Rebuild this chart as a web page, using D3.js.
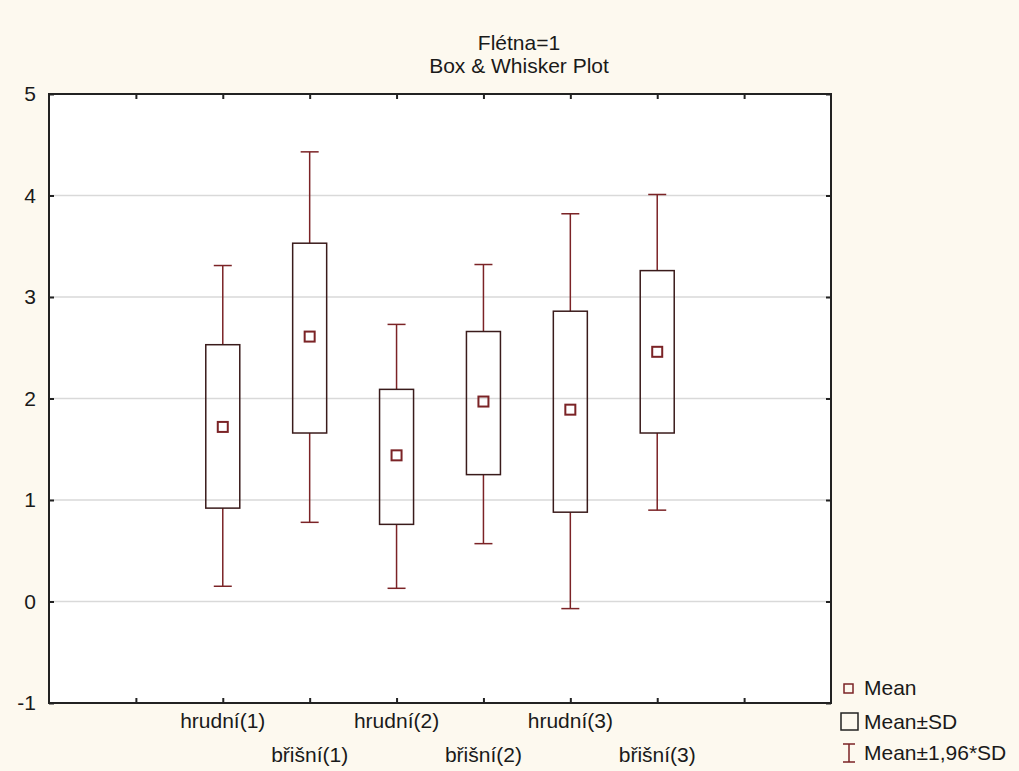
<!DOCTYPE html>
<html>
<head>
<meta charset="utf-8">
<script src="https://cdn.jsdelivr.net/npm/d3@7"></script>
<style>
  body { margin: 0; background: #fdf9ef; }
  text { font-family: Arial, "Liberation Sans", sans-serif; fill: #1a1a1a; }
</style>
</head>
<body>
<svg id="chart" width="1019" height="771"></svg>
<script>
'use strict';

// category slots along x (first and last slots are empty)
const categories = ['', 'hrudní(1)', 'břišní(1)', 'hrudní(2)', 'břišní(2)', 'hrudní(3)', 'břišní(3)', ''];
const groups = ['hrudní(1)', 'břišní(1)', 'hrudní(2)', 'břišní(2)', 'hrudní(3)', 'břišní(3)'];
const means   = [1.72, 2.61, 1.44, 1.97, 1.89, 2.46];
const sdLow   = [0.92, 1.66, 0.76, 1.25, 0.88, 1.66];
const sdHigh  = [2.53, 3.53, 2.09, 2.66, 2.86, 3.26];
const ciLow   = [0.15, 0.78, 0.13, 0.57, -0.07, 0.90];
const ciHigh  = [3.31, 4.43, 2.73, 3.32, 3.82, 4.01];
const yTicks  = [-1, 0, 1, 2, 3, 4, 5];
const legendItems = ['Mean', 'Mean±SD', 'Mean±1,96*SD'];

const margin = { top: 94, right: 188, bottom: 68, left: 49 };
const width = 1019 - margin.left - margin.right,
  height = 771 - margin.top - margin.bottom;
const boxColor = '#7b2326';

const svg = d3.select('#chart');

svg.append('text')
  .attr('x', 519).attr('y', 50)
  .attr('text-anchor', 'middle')
  .style('font-size', '21px')
  .text('Flétna=1');
svg.append('text')
  .attr('x', 519).attr('y', 73)
  .attr('text-anchor', 'middle')
  .style('font-size', '21px')
  .text('Box & Whisker Plot');

const g = svg.append('g')
  .attr('transform', 'translate(' + margin.left + ',' + margin.top + ')');

const x = d3.scaleLinear().domain([-1, 8]).range([0, width]);
const y = d3.scaleLinear().domain([-1, 5]).range([height, 0]);

g.append('rect')
  .attr('width', width).attr('height', height)
  .attr('fill', '#ffffff');

// grid
g.selectAll('.grid')
  .data(yTicks.filter(d => d > -1 && d < 5))
  .enter().append('line')
  .attr('class', 'grid')
  .attr('x1', 0).attr('x2', width)
  .attr('y1', d => y(d)).attr('y2', d => y(d))
  .attr('stroke', '#d9d9d9').attr('stroke-width', 1.5);

const xIdx = d3.range(categories.length);

// axes, ticks inward
const axisL = d3.axisLeft(y).tickValues(yTicks).tickSize(-5).tickPadding(13).tickFormat(d => String(d));
const axisR = d3.axisRight(y).tickValues(yTicks).tickSize(-5).tickFormat('');
const axisB = d3.axisBottom(x).tickValues(xIdx).tickSize(-5).tickFormat('');
const axisT = d3.axisTop(x).tickValues(xIdx).tickSize(-5).tickFormat('');

function styleAxis(sel) {
  sel.select('.domain').remove();
  sel.selectAll('line').attr('stroke', '#222').attr('stroke-width', 2);
}
g.append('g').call(axisL).call(styleAxis)
  .selectAll('text').style('font-size', '21px').attr('fill', '#1a1a1a').attr('text-anchor', 'end');
g.append('g').attr('transform', 'translate(' + width + ',0)').call(axisR).call(styleAxis);
g.append('g').attr('transform', 'translate(0,' + height + ')').call(axisB).call(styleAxis);
g.append('g').call(axisT).call(styleAxis);

g.append('rect')
  .attr('width', width).attr('height', height)
  .attr('fill', 'none').attr('stroke', '#222').attr('stroke-width', 2);

// category labels, staggered
g.selectAll('.xlabel')
  .data(groups)
  .enter().append('text')
  .attr('class', 'xlabel')
  .attr('x', d => x(categories.indexOf(d)))
  .attr('y', (d, i) => height + (i % 2 === 0 ? 25 : 59))
  .attr('text-anchor', 'middle')
  .style('font-size', '21px')
  .text(d => d);

// boxes
const boxW = 34, capW = 18, markS = 10;
const box = g.selectAll('.box')
  .data(groups)
  .enter().append('g')
  .attr('class', 'box')
  .attr('transform', d => 'translate(' + x(categories.indexOf(d)) + ',0)');

box.append('line')
  .attr('x1', 0).attr('x2', 0)
  .attr('y1', (d, i) => y(ciHigh[i])).attr('y2', (d, i) => y(sdHigh[i]))
  .attr('stroke', boxColor).attr('stroke-width', 1.5);
box.append('line')
  .attr('x1', 0).attr('x2', 0)
  .attr('y1', (d, i) => y(sdLow[i])).attr('y2', (d, i) => y(ciLow[i]))
  .attr('stroke', boxColor).attr('stroke-width', 1.5);
box.append('line')
  .attr('x1', -capW / 2).attr('x2', capW / 2)
  .attr('y1', (d, i) => y(ciHigh[i])).attr('y2', (d, i) => y(ciHigh[i]))
  .attr('stroke', boxColor).attr('stroke-width', 1.5);
box.append('line')
  .attr('x1', -capW / 2).attr('x2', capW / 2)
  .attr('y1', (d, i) => y(ciLow[i])).attr('y2', (d, i) => y(ciLow[i]))
  .attr('stroke', boxColor).attr('stroke-width', 1.5);
box.append('rect')
  .attr('x', -boxW / 2).attr('width', boxW)
  .attr('y', (d, i) => y(sdHigh[i]))
  .attr('height', (d, i) => y(sdLow[i]) - y(sdHigh[i]))
  .attr('fill', 'none').attr('stroke', '#3a1b1b').attr('stroke-width', 1.5);
box.append('rect')
  .attr('x', -markS / 2).attr('width', markS)
  .attr('y', (d, i) => y(means[i]) - markS / 2).attr('height', markS)
  .attr('fill', 'none').attr('stroke', boxColor).attr('stroke-width', 2);

// legend
const legend = svg.append('g').attr('transform', 'translate(848,0)');
const legY = [688, 722, 753];
legend.selectAll('text')
  .data(legendItems)
  .enter().append('text')
  .attr('x', 16).attr('y', (d, i) => legY[i] + 7)
  .style('font-size', '21px')
  .text(d => d);
legend.append('rect')
  .attr('x', -4).attr('y', legY[0] - 4).attr('width', 9).attr('height', 9)
  .attr('fill', 'none').attr('stroke', boxColor).attr('stroke-width', 1.5);
legend.append('rect')
  .attr('x', -7).attr('y', legY[1] - 9).attr('width', 17).attr('height', 17)
  .attr('fill', 'none').attr('stroke', '#222').attr('stroke-width', 1.5);
legend.append('path')
  .attr('d', 'M-5,' + (legY[2] - 9) + 'H7M1,' + (legY[2] - 9) + 'V' + (legY[2] + 9) + 'M-5,' + (legY[2] + 9) + 'H7')
  .attr('fill', 'none').attr('stroke', boxColor).attr('stroke-width', 1.5);
</script>
</body>
</html>
